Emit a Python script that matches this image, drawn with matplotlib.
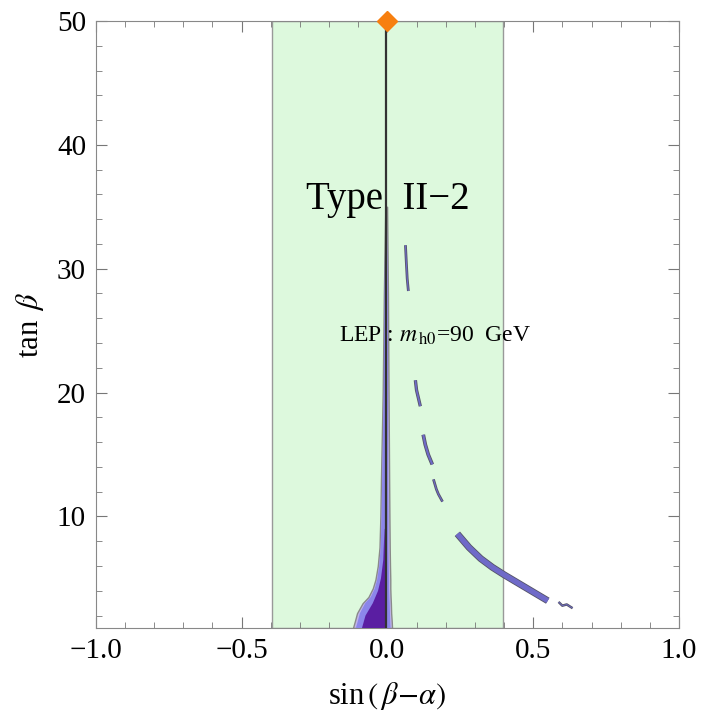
import matplotlib
matplotlib.use('Agg')
import matplotlib.pyplot as plt
import matplotlib.patheffects as pe
from matplotlib.ticker import MultipleLocator

plt.rcParams['font.family'] = ['Liberation Serif', 'DejaVu Serif']
plt.rcParams['mathtext.fontset'] = 'stix'

# allowed band in sin(beta-alpha)
band_lo, band_hi = -0.395, 0.395

# central funnel (edges at each tan beta level)
funnel_tanb = [1, 1.5, 2.2, 3, 3.5, 4.2, 4.9, 6, 7.5, 10, 13, 20, 28, 35]
outer_left = [-0.118, -0.112, -0.104, -0.085, -0.065, -0.05, -0.041, -0.033, -0.027, -0.024, -0.022, -0.016, -0.012, -0.007]
outer_right = [0.016, 0.015, 0.013, 0.012, 0.011, 0.010, 0.010, 0.009, 0.008, 0.007, 0.006, 0.004, 0.002, -0.001]
mid_left = [-0.108, -0.102, -0.094, -0.076, -0.057, -0.043, -0.035, -0.028, -0.023, -0.020, -0.018, -0.013, -0.010, -0.006]
mid_right = [0.011, 0.010, 0.009, 0.008, 0.007, 0.006, 0.006, 0.005, 0.004, 0.004, 0.003, 0.002, 0.001, -0.002]

inner_tanb = [1, 2, 3, 4, 5, 6.5, 9]
inner_left = [-0.087, -0.075, -0.05, -0.032, -0.022, -0.014, -0.010]
inner_right = [-0.004, -0.005, -0.005, -0.006, -0.007, -0.008, -0.009]

# allowed arcs on the right side
arc_x = [
    [0.062, 0.065, 0.068, 0.072],
    [0.096, 0.100, 0.106, 0.113],
    [0.123, 0.130, 0.140, 0.154],
    [0.158, 0.168, 0.175, 0.189],
    [0.24, 0.28, 0.32, 0.36, 0.40, 0.45, 0.50, 0.55],
    [0.587, 0.600, 0.615, 0.635],
]
arc_y = [
    [31.9, 30.5, 29.2, 28.2],
    [21.0, 20.2, 19.6, 18.9],
    [16.6, 15.8, 15.0, 14.2],
    [13.0, 12.2, 11.8, 11.2],
    [8.6, 7.5, 6.6, 5.9, 5.3, 4.6, 3.9, 3.2],
    [3.1, 2.8, 2.9, 2.6],
]
arc_width = [0.8, 1.2, 1.5, 0.8, 3.8, 0.6]

fig = plt.figure(figsize=(7.04, 7.15), dpi=100)
ax = fig.add_axes([0.136, 0.1217, 0.8285, 0.849])

ax.axvspan(band_lo, band_hi, facecolor='#ddf9dd', edgecolor='#999999', linewidth=1.0, zorder=0)

ax.fill_betweenx(funnel_tanb, outer_left, outer_right, facecolor='#c0b4ec', edgecolor='#8a8a8a', linewidth=1.0, zorder=2)
ax.fill_betweenx(funnel_tanb, mid_left, mid_right, facecolor='#8c86ea', edgecolor='none', zorder=3)
ax.fill_betweenx(inner_tanb, inner_left, inner_right, facecolor='#5a1ea2', edgecolor='none', zorder=4)

for xs, ys, w in zip(arc_x, arc_y, arc_width):
    ax.plot(xs, ys, color='#6f6ac8', linewidth=w, solid_capstyle='butt', zorder=3,
            path_effects=[pe.Stroke(linewidth=w + 1.2, foreground='#555566'), pe.Normal()])

ax.plot([-0.005, -0.005], [1, 50], color='#333333', linewidth=1.6, zorder=5)
ax.plot([0], [50], marker='D', markersize=10, color='#f77f0f', clip_on=False, zorder=6)

ax.set_xlim(-1, 1)
ax.set_ylim(1, 50)
ax.set_xticks([-1.0, -0.5, 0.0, 0.5, 1.0])
ax.set_xticklabels(['\u22121.0', '\u22120.5', '0.0', '0.5', '1.0'])
ax.set_yticks([10, 20, 30, 40, 50])
ax.xaxis.set_minor_locator(MultipleLocator(0.1))
ax.yaxis.set_minor_locator(MultipleLocator(2))
ax.tick_params(which='both', direction='in', top=True, right=True, color='#777777', labelsize=21, pad=7)
ax.tick_params(which='major', length=8)
ax.tick_params(which='minor', length=4)
for s in ax.spines.values():
    s.set_color('#888888')

ax.set_xlabel(r'sin$\,(\,\beta\!-\!\alpha)$', fontsize=22, labelpad=12)
ax.set_ylabel(r'tan $\,\beta$', fontsize=22, labelpad=8)

ax.text(0.0, 35.6, 'Type  II\u22122', fontsize=28, ha='center', va='center', zorder=7)
ax.text(0.165, 24.6, r'LEP : $m_{\,\rm h0}$=90  GeV', fontsize=17, ha='center', va='center', zorder=7)

fig.savefig('out.png', dpi=100)
